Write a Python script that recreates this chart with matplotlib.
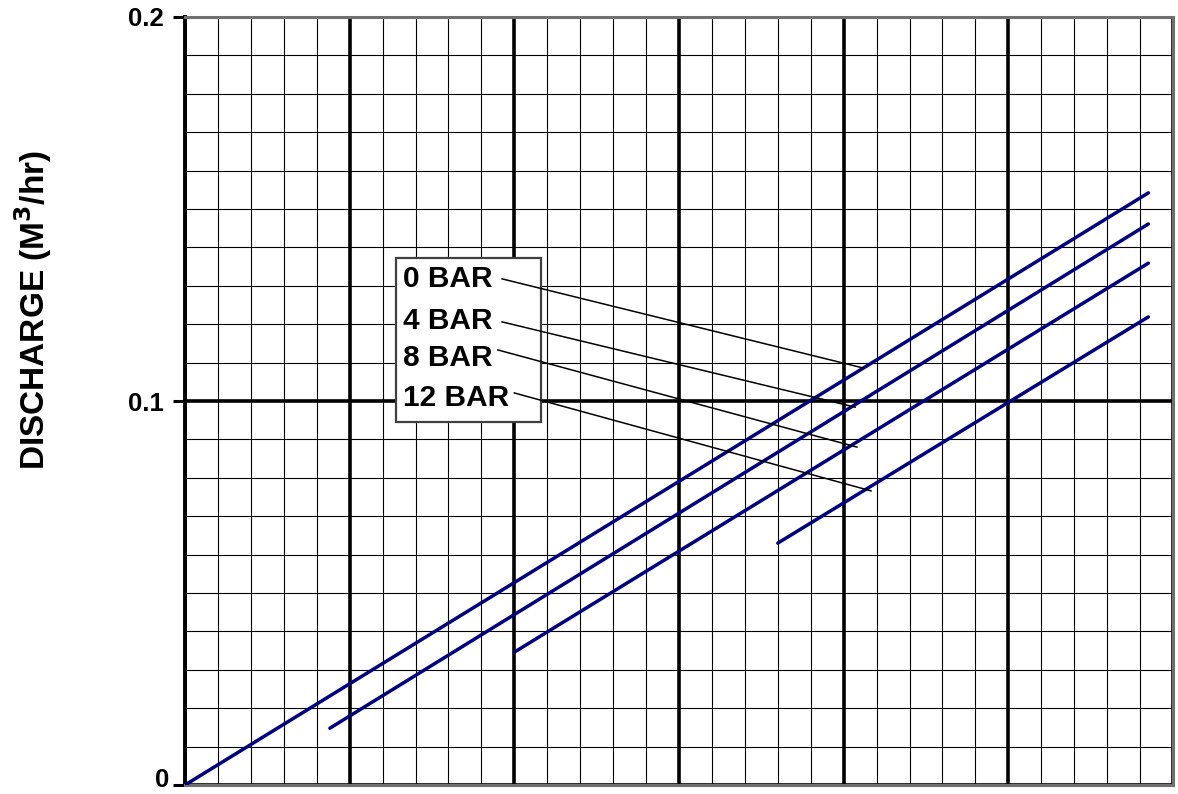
import matplotlib.pyplot as plt
import numpy as np
from matplotlib.patches import Rectangle

plt.rcParams['font.family'] = ['Liberation Sans', 'DejaVu Sans']

# discharge curves, x in grid columns (30 minor columns across)
bar_0_x = [0, 29.25]
bar_0_y = [0.0, 0.1542]
bar_4_x = [4.4, 29.25]
bar_4_y = [0.0148, 0.1461]
bar_8_x = [10.0, 29.25]
bar_8_y = [0.0346, 0.1359]
bar_12_x = [18.0, 29.25]
bar_12_y = [0.063, 0.1219]

labels = ['0 BAR', '4 BAR', '8 BAR', '12 BAR']
label_y = [0.1318, 0.1208, 0.1112, 0.1008]

# leader lines: start near label, end on curve
leader_x0 = [9.63, 9.63, 9.5, 10.0]
leader_y0 = [0.1318, 0.1206, 0.1133, 0.1021]
leader_x1 = [20.59, 20.35, 20.4, 20.83]
leader_y1 = [0.1086, 0.0984, 0.0880, 0.0766]

y_ticks = [0, 0.1, 0.2]
y_tick_labels = ['', '0.1', '0.2']

fig = plt.figure(figsize=(11.78, 7.94), dpi=100)
ax = fig.add_axes([0.157, 0.0113, 0.9958 - 0.157, 0.9786 - 0.0113])

ax.set_xlim(0, 30)
ax.set_ylim(0, 0.2)

ax.set_xticks(np.arange(0, 31, 5))
ax.set_xticks(np.arange(0, 31, 1), minor=True)
ax.set_yticks(y_ticks)
ax.set_yticklabels(y_tick_labels, fontweight='bold')
ax.set_yticks(np.arange(0, 0.2001, 0.01), minor=True)
ax.tick_params(axis='x', which='both', length=0, labelbottom=False)
ax.tick_params(axis='y', which='major', length=9, width=2.2, direction='out',
               pad=6, labelsize=18.5)
ax.tick_params(axis='y', which='minor', length=0)

# the "0" label sits at the very bottom edge; nudge so it stays inside
ax.annotate('0', xy=(0, 0), xycoords=('axes fraction', 'data'),
            xytext=(-11.5, -5), textcoords='offset points',
            ha='right', va='bottom', fontsize=18.5, fontweight='bold',
            annotation_clip=False)

ax.grid(which='minor', color='black', linewidth=0.8, zorder=0)
ax.grid(which='major', color='black', linewidth=2.6, zorder=0)
ax.set_axisbelow(True)

for s in ['top', 'right', 'bottom']:
    ax.spines[s].set_color('#707070')
    ax.spines[s].set_linewidth(2.2)
ax.spines['left'].set_color('black')
ax.spines['left'].set_linewidth(2.8)

for xs, ys in [(bar_0_x, bar_0_y), (bar_4_x, bar_4_y), (bar_8_x, bar_8_y), (bar_12_x, bar_12_y)]:
    ax.plot(xs, ys, color='#000080', linewidth=2.5, solid_capstyle='round', zorder=3)

# label box
box = Rectangle((6.41, 0.0945), 10.81 - 6.41, 0.1372 - 0.0945,
                facecolor='white', edgecolor='#404040', linewidth=1.6, zorder=4)
ax.add_patch(box)

for i in range(len(labels)):
    ax.text(6.62, label_y[i], labels[i], fontsize=21.5, fontweight='bold',
            va='center', ha='left', zorder=6)
    ax.plot([leader_x0[i], leader_x1[i]], [leader_y0[i], leader_y1[i]],
            color='black', linewidth=1.1, zorder=5)

fig.text(0.028, 0.61, 'DISCHARGE (M$^\\mathbf{3}$/hr)', rotation=90, fontsize=24,
         fontweight='bold', va='center', ha='center')

fig.savefig('out.png', dpi=100)
